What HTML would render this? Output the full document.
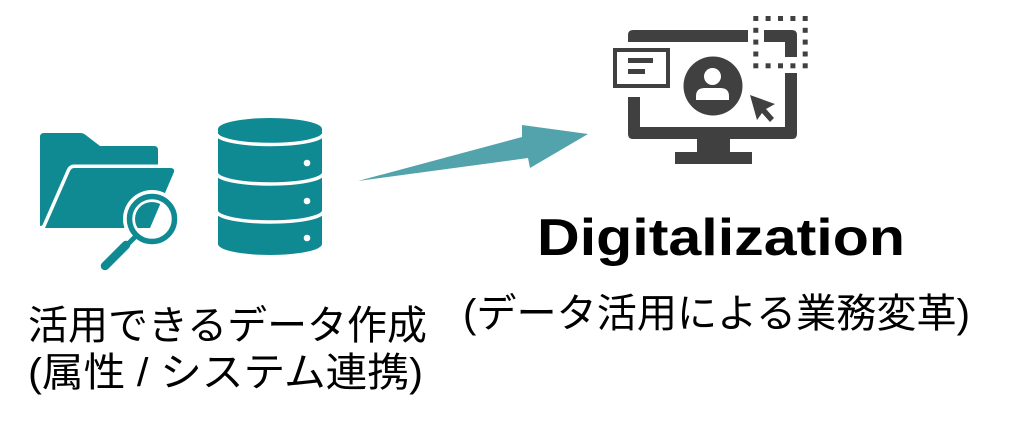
<!DOCTYPE html>
<html>
<head>
<meta charset="utf-8">
<style>
html,body{margin:0;padding:0;background:#fff;}
svg{display:block;}
</style>
</head>
<body>
<svg width="1024" height="427" viewBox="0 0 1024 427" xmlns="http://www.w3.org/2000/svg">
  <defs>
    <clipPath id="lens"><circle cx="152" cy="219" r="17"/></clipPath>
  </defs>
  <rect width="1024" height="427" fill="#fff"/>

  <!-- Folder -->
  <g fill="#0f8a93">
    <path d="M40,137 Q40,133 44,133 L80,133 Q83,133 85,134.5 L100,146 L154,146 Q158,146 158,150 L158,200 L40,226 Z"/>
    <path d="M74,168 L170,168 Q175,168 174,172 L150,228 L45,228 L70,171 Q71.5,168 74,168 Z" stroke="#fff" stroke-width="7" stroke-linejoin="round" paint-order="stroke"/>
  </g>
  <!-- Magnifier -->
  <circle cx="152" cy="219" r="29" fill="#fff"/>
  <path clip-path="url(#lens)" fill="#0f8a93" d="M74,168 L170,168 Q175,168 174,172 L150,228 L45,228 L70,171 Z"/>
  <circle cx="152" cy="219" r="22.5" fill="none" stroke="#0f8a93" stroke-width="5.5"/>
  <line x1="137" y1="235" x2="124" y2="248" stroke="#0f8a93" stroke-width="5"/>
  <line x1="126" y1="245" x2="105" y2="266" stroke="#0f8a93" stroke-width="8.5" stroke-linecap="round"/>

  <!-- Database -->
  <g>
    <path d="M218,129 L218,244 A52,11 0 0 0 322,244 L322,129 Z" fill="#0f8a93"/>
    <ellipse cx="270" cy="129" rx="52" ry="11" fill="#0f8a93"/>
    <g fill="none" stroke="#fff" stroke-width="3.5">
      <path d="M217,134 A53,10.5 0 0 0 323,134"/>
      <path d="M217,173.5 A53,10.5 0 0 0 323,173.5"/>
      <path d="M217,211.5 A53,10.5 0 0 0 323,211.5"/>
    </g>
    <g fill="#fff">
      <circle cx="307" cy="163" r="3.3"/>
      <circle cx="307" cy="201" r="3.3"/>
      <circle cx="307" cy="238" r="3.3"/>
    </g>
  </g>

  <!-- Arrow -->
  <polygon points="358,181 522,137 522,125 588,134 530,168 528,158" fill="#52a3ab"/>

  <!-- Monitor -->
  <g fill="#404040">
    <path d="M628,42 L628,35 Q628,30 633,30 L748,30 L748,42 Z"/>
    <path d="M764,30 L792,30 Q797,30 797,35 L797,57 L785,57 L785,42 L764,42 Z"/>
    <rect x="628" y="97" width="12" height="38"/>
    <path d="M628,127 L797,127 L797,134 Q797,139 792,139 L633,139 Q628,139 628,134 Z"/>
    <rect x="785" y="73" width="12" height="60"/>
    <!-- dialog -->
    <rect x="613" y="48" width="57" height="40"/>
    <rect x="617" y="52" width="49" height="32" fill="#fff"/>
    <rect x="628" y="58" width="25" height="5"/>
    <rect x="628" y="69" width="17" height="5"/>
    <!-- person -->
    <circle cx="713" cy="86" r="29.5"/>
    <circle cx="712.5" cy="76.5" r="8.5" fill="#fff"/>
    <path d="M696,100 L696,96 Q696,88 705,88 L720,88 Q729,88 729,96 L729,100 Z" fill="#fff"/>
    <!-- cursor -->
    <polygon points="750,95 757,120 762,113 770,122 774,118 766,109 775,104"/>
    <!-- stand -->
    <rect x="697" y="139" width="33" height="14"/>
    <rect x="675" y="152" width="77" height="12"/>
    <!-- dashed box -->
    <rect x="753.3" y="16" width="5" height="5"/>
    <rect x="765.6" y="16" width="5" height="5"/>
    <rect x="778" y="16" width="5" height="5"/>
    <rect x="790.4" y="16" width="5" height="5"/>
    <rect x="802.7" y="16" width="5" height="5"/>
    <rect x="753.3" y="63.3" width="5" height="5"/>
    <rect x="765.6" y="63.3" width="5" height="5"/>
    <rect x="778" y="63.3" width="5" height="5"/>
    <rect x="790.4" y="63.3" width="5" height="5"/>
    <rect x="802.7" y="63.3" width="5" height="5"/>
    <rect x="753.3" y="27.8" width="5" height="5"/>
    <rect x="753.3" y="39.6" width="5" height="5"/>
    <rect x="753.3" y="51.5" width="5" height="5"/>
    <rect x="802.7" y="27.8" width="5" height="5"/>
    <rect x="802.7" y="39.6" width="5" height="5"/>
    <rect x="802.7" y="51.5" width="5" height="5"/>
  </g>

  <!-- Text -->
  <g font-family="'Liberation Sans','Noto Sans CJK JP',sans-serif" fill="#000">
    <text x="28" y="339" font-size="40" textLength="399" lengthAdjust="spacingAndGlyphs">活用できるデータ作成</text>
    <text x="28" y="386" font-size="40" textLength="395" lengthAdjust="spacingAndGlyphs">(属性 / システム連携)</text>
    <text x="537" y="255" font-size="52" font-weight="bold" textLength="368" lengthAdjust="spacingAndGlyphs">Digitalization</text>
    <text x="463" y="327" font-size="40" textLength="507" lengthAdjust="spacingAndGlyphs">(データ活用による業務変革)</text>
  </g>
</svg>
</body>
</html>
